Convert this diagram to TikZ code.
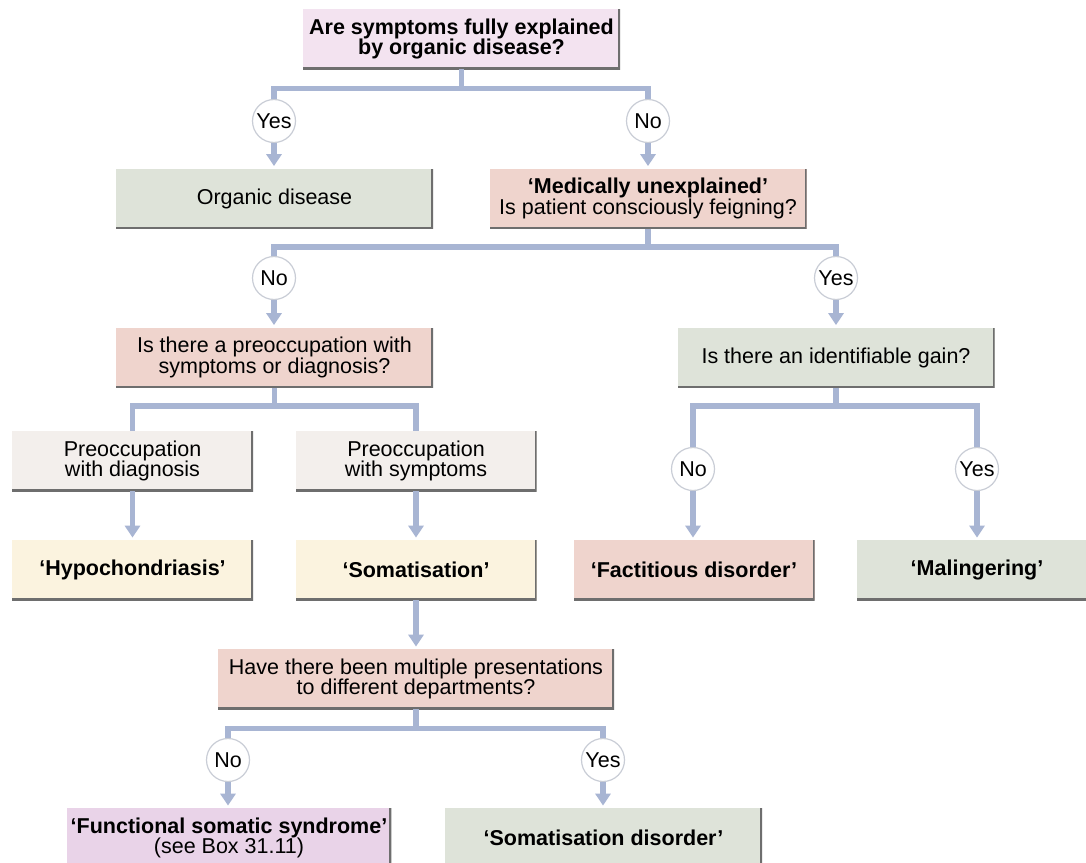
\documentclass[tikz,border=0pt]{standalone}
\usepackage{fontspec}
\setmainfont{Liberation Sans}
\usepackage{tikz}
\usetikzlibrary{arrows.meta}

\definecolor{pinkq}{HTML}{F3E3F0}
\definecolor{sage}{HTML}{DEE3D9}
\definecolor{salmon}{HTML}{EFD4CD}
\definecolor{beige}{HTML}{F3EFEC}
\definecolor{cream}{HTML}{FBF3DF}
\definecolor{lilac}{HTML}{E9D3E8}
\definecolor{link}{HTML}{A8B5D3}
\definecolor{edgegray}{HTML}{6E6E6E}
\definecolor{ringgray}{HTML}{C9CDD6}

\begin{document}
\begin{tikzpicture}[x=0.5pt, y=-0.5pt,
  every node/.style={font=\fontsize{10.75}{10.2}\selectfont},
  box/.style={fill=#1, align=center, inner sep=2pt, minimum height=30pt,
    path picture={\draw[edgegray, line width=2pt]
      (path picture bounding box.north east) -- (path picture bounding box.south east)
      -- (path picture bounding box.south west);}},
  wide/.style={minimum width=158.5pt},
  narrow/.style={minimum width=120.5pt},
  ans/.style={circle, draw=ringgray, fill=white, line width=0.6pt, minimum size=21.5pt, inner sep=0pt},
  conn/.style={draw=link, line width=2.75pt},
  arr/.style={conn, -{Triangle[width=7.5pt,length=6pt]}, shorten >=1pt}]
\clip (0,0) rectangle (1086,862);
\fill[white] (0,0) rectangle (1086,862);

\node[box=pinkq, wide] (organicq) at (461.5,39) {\textbf{Are symptoms fully explained}\\\textbf{by organic disease?}};
\node[ans] (yes1) at (274,121) {Yes};
\node[ans] (no1) at (648,121) {No};
\node[box=sage, wide] (organic) at (274.5,198.5) {Organic disease};
\node[box=salmon, wide] (feignq) at (648,198.5) {\textbf{‘Medically unexplained’}\\Is patient consciously feigning?};

\node[ans] (no2) at (274,278) {No};
\node[ans] (yes2) at (836,278) {Yes};
\node[box=salmon, wide] (preoccq) at (274.5,357.5) {Is there a preoccupation with\\symptoms or diagnosis?};
\node[box=sage, wide] (gainq) at (836,357.5) {Is there an identifiable gain?};

\node[box=beige, narrow] (withdiag) at (132.5,461) {Preoccupation\\with diagnosis};
\node[box=beige, narrow] (withsymp) at (416,461) {Preoccupation\\with symptoms};
\node[ans] (no3) at (693,469) {No};
\node[ans] (yes3) at (977,469) {Yes};

\node[box=cream, narrow] (hypo) at (132.5,570) {\textbf{‘Hypochondriasis’}};
\node[box=cream, narrow] (somat) at (416,570) {\textbf{‘Somatisation’}};
\node[box=salmon, narrow] (fact) at (694,570) {\textbf{‘Factitious disorder’}};
\node[box=sage, narrow] (maling) at (977,570) {\textbf{‘Malingering’}};

\node[box=salmon, minimum width=198pt] (multiq) at (416,679) {Have there been multiple presentations\\to different departments?};
\node[ans] (no4) at (228,760) {No};
\node[ans] (yes4) at (603,760) {Yes};
\node[box=lilac, wide] (func) at (229,838) {\textbf{‘Functional somatic syndrome’}\\(see Box 31.11)};
\node[box=sage, wide] (somdis) at (603.5,838) {\textbf{‘Somatisation disorder’}};

\draw[conn] (organicq.south) -- ++(0,19) -| (yes1.north);
\draw[conn] (organicq.south) -- ++(0,19) -| (no1.north);
\draw[arr] (yes1.south) -- (yes1.south |- organic.north);
\draw[arr] (no1.south) -- (no1.south |- feignq.north);

\draw[conn] (feignq.south) -- ++(0,18) -| (no2.north);
\draw[conn] (feignq.south) -- ++(0,18) -| (yes2.north);
\draw[arr] (no2.south) -- (no2.south |- preoccq.north);
\draw[arr] (yes2.south) -- (yes2.south |- gainq.north);

\draw[conn] (preoccq.south) -- ++(0,18) -| (withdiag.north);
\draw[conn] (preoccq.south) -- ++(0,18) -| (withsymp.north);
\draw[conn] (gainq.south) -- ++(0,18) -| (no3.north);
\draw[conn] (gainq.south) -- ++(0,18) -| (yes3.north);

\draw[arr] (withdiag.south) -- (withdiag.south |- hypo.north);
\draw[arr] (withsymp.south) -- (withsymp.south |- somat.north);
\draw[arr] (no3.south) -- (no3.south |- fact.north);
\draw[arr] (yes3.south) -- (yes3.south |- maling.north);

\draw[arr] (somat.south) -- (somat.south |- multiq.north);
\draw[conn] (multiq.south) -- ++(0,19) -| (no4.north);
\draw[conn] (multiq.south) -- ++(0,19) -| (yes4.north);
\draw[arr] (no4.south) -- (no4.south |- func.north);
\draw[arr] (yes4.south) -- (yes4.south |- somdis.north);
\end{tikzpicture}
\end{document}
